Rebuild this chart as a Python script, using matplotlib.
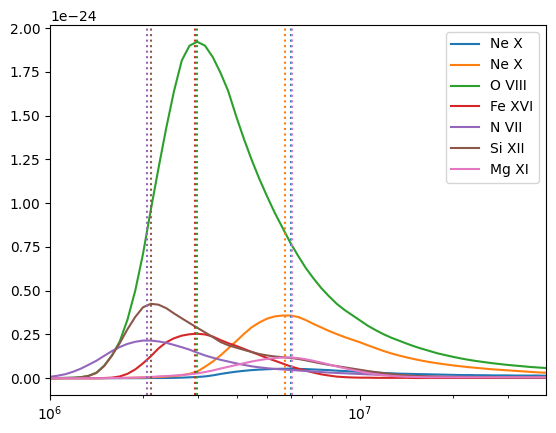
import numpy as np
import matplotlib
matplotlib.use("Agg")
import matplotlib.pyplot as plt

# log10 temperature grid (step 0.025)
logT = [6.000, 6.025, 6.050, 6.075, 6.100,
        6.125, 6.150, 6.175, 6.200, 6.225,
        6.250, 6.275, 6.300, 6.325, 6.350,
        6.375, 6.400, 6.425, 6.450, 6.475,
        6.500, 6.525, 6.550, 6.575, 6.600,
        6.625, 6.650, 6.675, 6.700, 6.725,
        6.750, 6.775, 6.800, 6.825, 6.850,
        6.875, 6.900, 6.925, 6.950, 6.975,
        7.000, 7.025, 7.050, 7.075, 7.100,
        7.125, 7.150, 7.175, 7.200, 7.225,
        7.250, 7.275, 7.300, 7.325, 7.350,
        7.375, 7.400, 7.425, 7.450, 7.475,
        7.500, 7.525, 7.550, 7.575, 7.600]

labels = ["Ne X", "Ne X", "O VIII", "Fe XVI", "N VII", "Si XII", "Mg XI"]

# emissivities in units of 1e-24
ne_x_1 = [0, 0, 0, 0, 0,
          0, 0, 0, 0, 0,
          0, 0, 0, 0.001, 0.001,
          0.001, 0.002, 0.003, 0.005, 0.007,
          0.01, 0.016, 0.024, 0.031, 0.037,
          0.042, 0.046, 0.049, 0.051, 0.053,
          0.054, 0.054, 0.053, 0.052, 0.05,
          0.048, 0.046, 0.043, 0.041, 0.038,
          0.036, 0.034, 0.032, 0.03, 0.028,
          0.026, 0.025, 0.024, 0.023, 0.022,
          0.021, 0.02, 0.019, 0.018, 0.018,
          0.017, 0.017, 0.016, 0.016, 0.016,
          0.015, 0.015, 0.015, 0.015, 0.014]
ne_x_2 = [0, 0, 0, 0, 0,
          0, 0, 0, 0.001, 0.001,
          0.002, 0.003, 0.004, 0.005, 0.007,
          0.009, 0.012, 0.017, 0.025, 0.038,
          0.065, 0.095, 0.13, 0.17, 0.21,
          0.252, 0.29, 0.318, 0.34, 0.353,
          0.358, 0.358, 0.35, 0.332, 0.31,
          0.29, 0.27, 0.252, 0.235, 0.22,
          0.205, 0.188, 0.172, 0.156, 0.142,
          0.13, 0.119, 0.109, 0.10, 0.092,
          0.085, 0.079, 0.073, 0.068, 0.063,
          0.059, 0.055, 0.051, 0.048, 0.045,
          0.042, 0.039, 0.036, 0.033, 0.031]
o_viii = [0.0, 0.001, 0.002, 0.003, 0.006,
          0.014, 0.032, 0.072, 0.13, 0.21,
          0.335, 0.50, 0.71, 0.96, 1.20,
          1.43, 1.64, 1.815, 1.90, 1.922,
          1.90, 1.835, 1.745, 1.64, 1.50,
          1.37, 1.25, 1.14, 1.04, 0.945,
          0.86, 0.775, 0.70, 0.63, 0.57,
          0.515, 0.468, 0.425, 0.39, 0.36,
          0.33, 0.30, 0.275, 0.252, 0.232,
          0.215, 0.198, 0.182, 0.168, 0.155,
          0.142, 0.132, 0.122, 0.113, 0.105,
          0.098, 0.092, 0.086, 0.081, 0.076,
          0.072, 0.068, 0.064, 0.061, 0.058]
fe_xvi = [0, 0, 0, 0, 0,
          0, 0, 0.001, 0.003, 0.01,
          0.025, 0.05, 0.085, 0.125, 0.17,
          0.205, 0.228, 0.243, 0.251, 0.254,
          0.25, 0.238, 0.218, 0.2, 0.185,
          0.168, 0.15, 0.133, 0.115, 0.1,
          0.084, 0.068, 0.055, 0.043, 0.032,
          0.022, 0.015, 0.009, 0.006, 0.004,
          0.003, 0.003, 0.002, 0.002, 0.002,
          0.002, 0.002, 0.001, 0.001, 0.001,
          0.001, 0.001, 0.001, 0.001, 0.001,
          0.001, 0.001, 0.001, 0.001, 0.001,
          0.001, 0.001, 0.001, 0.001, 0.001]
n_vii = [0.008, 0.014, 0.023, 0.037, 0.055,
         0.077, 0.10, 0.128, 0.155, 0.178,
         0.196, 0.208, 0.215, 0.215, 0.21,
         0.202, 0.19, 0.177, 0.163, 0.146,
         0.13, 0.117, 0.105, 0.095, 0.085,
         0.076, 0.068, 0.062, 0.057, 0.053,
         0.05, 0.047, 0.044, 0.041, 0.038,
         0.035, 0.032, 0.03, 0.028, 0.026,
         0.024, 0.022, 0.02, 0.018, 0.017,
         0.015, 0.014, 0.013, 0.012, 0.011,
         0.01, 0.0095, 0.009, 0.0085, 0.008,
         0.0075, 0.007, 0.0065, 0.006, 0.006,
         0.006, 0.0055, 0.005, 0.005, 0.005]
si_xii = [0, 0, 0.001, 0.002, 0.005,
          0.013, 0.03, 0.07, 0.13, 0.2,
          0.28, 0.35, 0.405, 0.425, 0.42,
          0.4, 0.37, 0.342, 0.315, 0.288,
          0.262, 0.235, 0.207, 0.188, 0.175,
          0.162, 0.15, 0.138, 0.13, 0.124,
          0.12, 0.116, 0.11, 0.102, 0.093,
          0.084, 0.076, 0.069, 0.062, 0.055,
          0.048, 0.041, 0.035, 0.029, 0.024,
          0.02, 0.016, 0.013, 0.011, 0.009,
          0.008, 0.007, 0.006, 0.006, 0.005,
          0.005, 0.005, 0.005, 0.004, 0.004,
          0.004, 0.004, 0.004, 0.004, 0.004]
mg_xi = [0, 0, 0, 0, 0,
         0, 0, 0, 0.001, 0.001,
         0.002, 0.003, 0.005, 0.007, 0.01,
         0.012, 0.015, 0.018, 0.022, 0.027,
         0.035, 0.044, 0.055, 0.065, 0.075,
         0.085, 0.095, 0.103, 0.11, 0.115,
         0.118, 0.118, 0.115, 0.108, 0.099,
         0.089, 0.078, 0.067, 0.057, 0.047,
         0.038, 0.03, 0.022, 0.017, 0.013,
         0.01, 0.008, 0.007, 0.006, 0.005,
         0.005, 0.005, 0.005, 0.005, 0.005,
         0.005, 0.005, 0.005, 0.005, 0.005,
         0.005, 0.005, 0.005, 0.005, 0.005]

# peak temperatures (K) for the vertical markers
peak_T = [5.97e6, 5.75e6, 2.97e6, 2.94e6, 2.05e6, 2.12e6, 6.03e6]

series = [ne_x_1, ne_x_2, o_viii, fe_xvi, n_vii, si_xii, mg_xi]
colors = ["C0", "C1", "C2", "C3", "C4", "C5", "C6"]

T = 10 ** np.array(logT)

fig = plt.figure(figsize=(5.56, 4.33), dpi=100)
ax = fig.add_axes([50 / 556, 1 - 395 / 433, 496 / 556, 370 / 433])

for vals, lab, c in zip(series, labels, colors):
    ax.plot(T, np.array(vals) * 1e-24, color=c, label=lab)
for pt, c in zip(peak_T, colors):
    ax.axvline(pt, color=c, linestyle=":")

ax.set_xscale("log")
ax.set_xlim(T[0], T[-1])
ax.legend(loc="upper right")

fig.savefig("out.png", dpi=100)
